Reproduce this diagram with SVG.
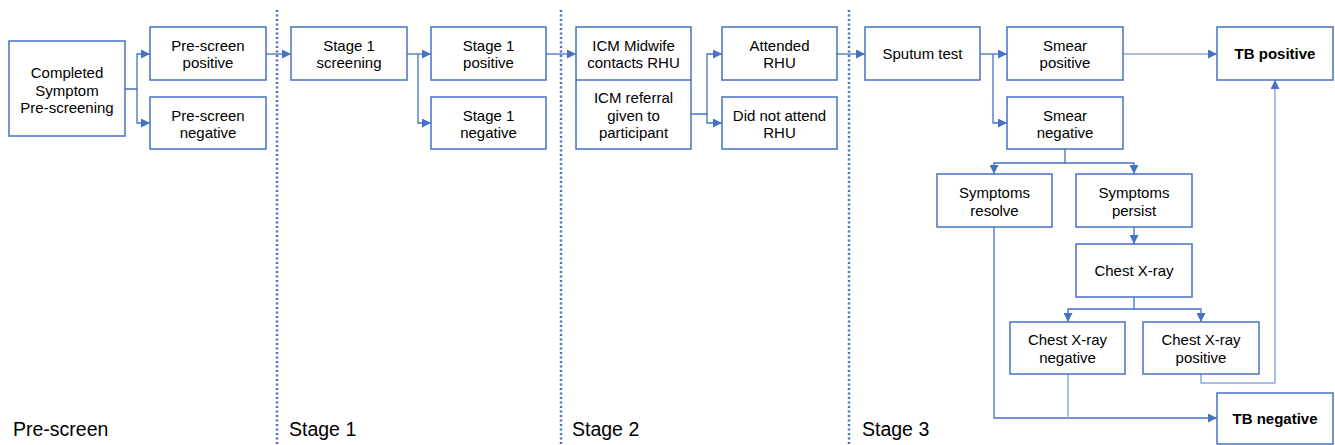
<svg xmlns="http://www.w3.org/2000/svg" width="1335" height="445" viewBox="0 0 1335 445">
<style>
.box{fill:#fff;stroke:#4472c4;stroke-width:1.5}
.t{font-family:"Liberation Sans",Arial,sans-serif;font-size:15px;fill:#000;text-anchor:middle}
.b{font-weight:bold}
.lbl{font-family:"Liberation Sans",Arial,sans-serif;font-size:19.5px;fill:#000}
.c{fill:none;stroke:#4472c4;stroke-width:1.3}
.cl{fill:none;stroke:#8eaadb;stroke-width:1.5}
.dot{stroke:#4472c4;stroke-width:2.5;stroke-dasharray:2 2.5}
</style>
<defs>
<marker id="ah" markerUnits="userSpaceOnUse" markerWidth="9" markerHeight="9" refX="9" refY="4.5" orient="auto">
<path d="M0,0 L9,4.5 L0,9 z" fill="#4472c4"/>
</marker>
</defs>
<g id="dividers">
<line class="dot" x1="277" y1="10" x2="277" y2="445"/>
<line class="dot" x1="561" y1="10" x2="561" y2="445"/>
<line class="dot" x1="849" y1="10" x2="849" y2="445"/>
</g>
<g id="connectors">
<path class="c" d="M125,89 H137 V54 H150" marker-end="url(#ah)"/>
<path class="c" d="M137,89 V123 H150" marker-end="url(#ah)"/>
<path class="c" d="M266,54 H291" marker-end="url(#ah)"/>
<path class="c" d="M407,54 H431" marker-end="url(#ah)"/>
<path class="c" d="M418,54 V123 H431" marker-end="url(#ah)"/>
<path class="c" d="M546,54 H576" marker-end="url(#ah)"/>
<path class="c" d="M691,114 H707 V54 H722" marker-end="url(#ah)"/>
<path class="c" d="M707,114 V123 H722" marker-end="url(#ah)"/>
<path class="c" d="M837,54 H865" marker-end="url(#ah)"/>
<path class="c" d="M980,54 H1007" marker-end="url(#ah)"/>
<path class="c" d="M993,54 V123 H1007" marker-end="url(#ah)"/>
<path class="cl" d="M1123,54 H1217" marker-end="url(#ah)"/>
<path class="c" d="M1065,149 V163 H994 V174" marker-end="url(#ah)"/>
<path class="c" d="M1065,163 H1134 V174" marker-end="url(#ah)"/>
<path class="c" d="M1134,227 V244" marker-end="url(#ah)"/>
<path class="c" d="M1134,297 V309 H1068 V322" marker-end="url(#ah)"/>
<path class="c" d="M1134,309 H1201 V322" marker-end="url(#ah)"/>
<path class="cl" d="M1201,374 V383 H1275 V80" marker-end="url(#ah)"/>
<path class="c" d="M994,227 V418 H1217" marker-end="url(#ah)"/>
<path class="cl" d="M1068,374 V418"/>
</g>
<g id="n-completed"><rect class="box" x="9" y="41" width="116" height="95"/>
<text class="t" x="67" y="78">Completed</text><text class="t" x="67" y="95.5">Symptom</text><text class="t" x="67" y="113">Pre-screening</text></g>
<g id="n-prepos"><rect class="box" x="150" y="27" width="116" height="53"/>
<text class="t" x="208" y="50.5">Pre-screen</text><text class="t" x="208" y="68">positive</text></g>
<g id="n-preneg"><rect class="box" x="150" y="97" width="116" height="52"/>
<text class="t" x="208" y="120.5">Pre-screen</text><text class="t" x="208" y="138">negative</text></g>
<g id="n-s1screen"><rect class="box" x="291" y="27" width="116" height="53"/>
<text class="t" x="349" y="50.5">Stage 1</text><text class="t" x="349" y="68">screening</text></g>
<g id="n-s1pos"><rect class="box" x="431" y="27" width="115" height="53"/>
<text class="t" x="488.5" y="50.5">Stage 1</text><text class="t" x="488.5" y="68">positive</text></g>
<g id="n-s1neg"><rect class="box" x="431" y="97" width="115" height="52"/>
<text class="t" x="488.5" y="120.5">Stage 1</text><text class="t" x="488.5" y="138">negative</text></g>
<g id="n-icm"><rect class="box" x="576" y="27" width="115" height="122"/>
<line x1="576" y1="80" x2="691" y2="80" stroke="#4472c4" stroke-width="1.5"/>
<text class="t" x="633.5" y="50.5">ICM Midwife</text><text class="t" x="633.5" y="68">contacts RHU</text>
<text class="t" x="633.5" y="102.5">ICM referral</text><text class="t" x="633.5" y="120.5">given to</text><text class="t" x="633.5" y="138">participant</text></g>
<g id="n-attended"><rect class="box" x="722" y="27" width="115" height="53"/>
<text class="t" x="779.5" y="50.5">Attended</text><text class="t" x="779.5" y="68">RHU</text></g>
<g id="n-notattend"><rect class="box" x="722" y="97" width="115" height="52"/>
<text class="t" x="779.5" y="120.5">Did not attend</text><text class="t" x="779.5" y="138">RHU</text></g>
<g id="n-sputum"><rect class="box" x="865" y="27" width="115" height="53"/>
<text class="t" x="922.5" y="59">Sputum test</text></g>
<g id="n-smearpos"><rect class="box" x="1007" y="27" width="116" height="53"/>
<text class="t" x="1065" y="50.5">Smear</text><text class="t" x="1065" y="68">positive</text></g>
<g id="n-smearneg"><rect class="box" x="1007" y="97" width="116" height="52"/>
<text class="t" x="1065" y="120.5">Smear</text><text class="t" x="1065" y="138">negative</text></g>
<g id="n-tbpos"><rect class="box" x="1217" y="27" width="116" height="53"/>
<text class="t b" x="1275" y="59">TB positive</text></g>
<g id="n-resolve"><rect class="box" x="937" y="174" width="115" height="53"/>
<text class="t" x="994.5" y="197.5">Symptoms</text><text class="t" x="994.5" y="216">resolve</text></g>
<g id="n-persist"><rect class="box" x="1076" y="174" width="116" height="53"/>
<text class="t" x="1134" y="197.5">Symptoms</text><text class="t" x="1134" y="216">persist</text></g>
<g id="n-cxr"><rect class="box" x="1076" y="244" width="116" height="53"/>
<text class="t" x="1134" y="275.5">Chest X-ray</text></g>
<g id="n-cxrneg"><rect class="box" x="1010" y="322" width="115" height="52"/>
<text class="t" x="1067.5" y="345">Chest X-ray</text><text class="t" x="1067.5" y="363">negative</text></g>
<g id="n-cxrpos"><rect class="box" x="1143" y="322" width="116" height="52"/>
<text class="t" x="1201" y="345">Chest X-ray</text><text class="t" x="1201" y="363">positive</text></g>
<g id="n-tbneg"><rect class="box" x="1217" y="393" width="116" height="51"/>
<text class="t b" x="1275" y="424">TB negative</text></g>
<g id="stage-labels">
<text class="lbl" x="13" y="436">Pre-screen</text>
<text class="lbl" x="289" y="436">Stage 1</text>
<text class="lbl" x="572" y="436">Stage 2</text>
<text class="lbl" x="862" y="436">Stage 3</text>
</g>
</svg>
